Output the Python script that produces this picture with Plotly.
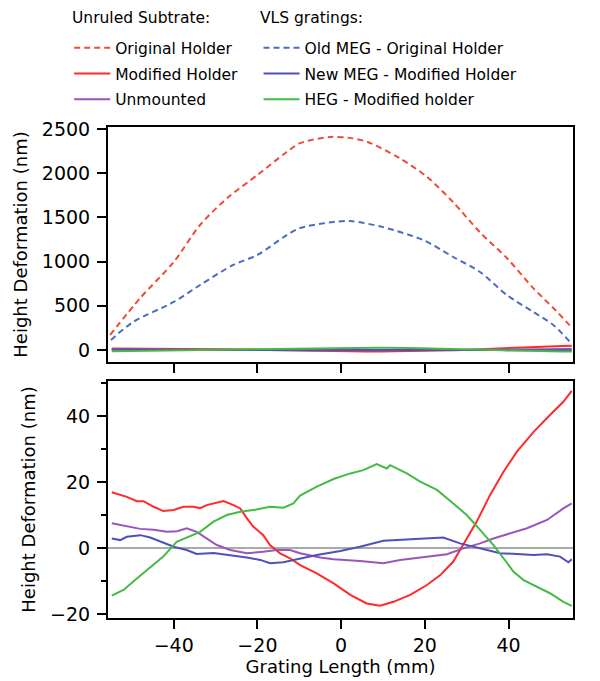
import plotly.graph_objects as go
from plotly.subplots import make_subplots

# ---------------- data ----------------
# Unruled substrate, original holder (dashed red), nm
orig_x = [-55.2, -48, -40, -33.7, -27.2, -20, -13, -9.8, -2.6, 2, 6.2, 14, 20.5, 26.8, 33.2, 39.6, 45.9, 50.7, 55.2]
orig_y = [170, 588, 995, 1414, 1720, 1980, 2240, 2340, 2410, 2400, 2356, 2170, 1960, 1670, 1330, 1040, 700, 475, 250]

# VLS grating, old MEG original holder (dashed blue), nm
oldmeg_x = [-55, -49.7, -40, -33.7, -25.8, -20, -13, -9.8, -1.9, 2.2, 10, 19.6, 26.8, 33.2, 39.6, 45.9, 50.7, 54.7]
oldmeg_y = [113, 317, 543, 735, 962, 1075, 1300, 1380, 1448, 1459, 1390, 1244, 1052, 882, 622, 430, 283, 90]

# Unruled substrate, modified holder (solid red), nm
mod_x = [-54.8, -51.2, -48.8, -47.2, -44.8, -42.5, -40, -37.7, -35.3, -33.7, -32.1, -29.7, -28.1, -25.7, -24.1,
         -22.5, -21, -18.6, -17, -14.6, -12.2, -9.8, -5.8, -1.8, 2.2, 6.1, 9.3, 12.5, 16.5, 20.5, 23.7, 26.8,
         29.2, 32.4, 35.6, 38.8, 42, 46, 49.9, 53.1, 55.1]
mod_y = [16.9, 15.5, 14.2, 14.2, 12.5, 11.2, 11.5, 12.5, 12.5, 12.1, 13.0, 13.7, 14.2, 13.0, 12.0,
         9.0, 6.5, 3.9, 0.9, -1.6, -3.1, -5.2, -7.7, -10.7, -14.2, -16.8, -17.5, -16.3, -14.2, -11.2, -8.2, -4.1,
         0.9, 8.0, 16.1, 23.1, 29.2, 35.2, 40.3, 44.3, 47.6]

# Unruled substrate, unmounted (purple), nm
unm_x = [-54.8, -51.2, -48, -44.8, -41.6, -39.2, -36.9, -34.5, -32.1, -29.7, -26.5, -22.5, -18.6, -15.4, -12.2,
         -9.8, -5, -1.8, 4.5, 10.1, 14.1, 20.5, 25.3, 29.2, 33.2, 36.4, 39.6, 44.4, 49.2, 53.1, 55.1]
unm_y = [7.5, 6.5, 5.8, 5.5, 4.9, 5.1, 6.0, 4.9, 2.9, 0.9, -0.6, -1.6, -1.1, -0.6, -0.6,
         -1.6, -2.9, -3.4, -3.9, -4.6, -3.6, -2.6, -1.9, -0.1, 1.4, 2.9, 4.1, 6.0, 8.5, 12.0, 13.5]

# VLS grating, new MEG modified holder (solid blue), nm
newmeg_x = [-54.8, -52.8, -51.2, -48, -45.6, -43.2, -40, -36.9, -34.5, -30.5, -26.5, -22.5, -19.3, -17, -13.8,
            -9.8, -5.8, -0.2, 4.5, 10.1, 16.5, 20.5, 24.4, 28.4, 33.2, 38, 42, 46, 49.2, 52.3, 54.3, 55.1]
newmeg_y = [2.9, 2.4, 3.4, 3.9, 3.2, 1.9, 0.4, -0.6, -1.8, -1.5, -2.1, -2.9, -3.6, -4.6, -4.3,
            -3.1, -2.1, -0.9, 0.4, 2.2, 2.6, 3.0, 3.2, 1.4, -0.1, -1.6, -1.8, -2.1, -1.9, -2.6, -4.3, -3.4]

# VLS grating, HEG modified holder (green), nm
heg_x = [-54.8, -52, -48.8, -45.6, -42.5, -39.3, -36.9, -33.7, -30.5, -27.3, -24.1, -21, -17, -13.8, -11.4,
         -9.8, -5.8, -1.8, 2.2, 5.3, 8.5, 10.9, 11.7, 15.7, 18.9, 22.9, 26.8, 30, 33.2, 36.4, 38.8, 41.2,
         43.6, 46.8, 49.9, 53.1, 55.1]
heg_y = [-14.4, -12.7, -9.2, -5.7, -2.6, 1.9, 3.2, 4.9, 8.0, 10.0, 11.0, 11.5, 12.5, 12.2, 13.5,
         15.9, 18.6, 20.9, 22.6, 23.6, 25.4, 24.1, 25.1, 22.6, 20.1, 17.6, 13.5, 10.0, 5.5, 0.9, -3.1, -7.2,
         -9.7, -11.7, -13.7, -16.3, -17.5]

x_ticks = [-40, -20, 0, 20, 40]
top_y_ticks = [0, 500, 1000, 1500, 2000, 2500]
bot_y_ticks = [-20, 0, 20, 40]
legend_headers = ["Unruled Subtrate:", "VLS gratings:"]

# ---------------- styles ----------------
RED_D = "#ef4a3a"
BLUE_D = "#4a6cc0"
RED = "#ff2a2a"
PURPLE = "#9a55bb"
BLUE = "#5050bb"
GREEN = "#44bb44"
FONT = "DejaVu Sans"
DASH = "6px,4px"

fig = make_subplots(rows=2, cols=1, shared_xaxes=False, vertical_spacing=0.0387)

series = [
    ("Original Holder", orig_x, orig_y, RED_D, DASH, "legend", False),
    ("Modified Holder", mod_x, mod_y, RED, "solid", "legend", True),
    ("Unmounted", unm_x, unm_y, PURPLE, "solid", "legend", True),
    ("Old MEG - Original Holder", oldmeg_x, oldmeg_y, BLUE_D, DASH, "legend2", False),
    ("New MEG - Modified Holder", newmeg_x, newmeg_y, BLUE, "solid", "legend2", True),
    ("HEG - Modified holder", heg_x, heg_y, GREEN, "solid", "legend2", True),
]

for name, xs, ys, col, dash, leg, bottom in series:
    shape = "linear" if bottom else "spline"
    fig.add_trace(go.Scatter(x=xs, y=ys, mode="lines", name=name,
                             line=dict(color=col, width=2, dash=dash, shape=shape, smoothing=0.8),
                             legend=leg, showlegend=True, legendgroup=name), row=1, col=1)
    if bottom:
        fig.add_trace(go.Scatter(x=xs, y=ys, mode="lines", name=name,
                                 line=dict(color=col, width=2, dash=dash),
                                 showlegend=False, legendgroup=name), row=2, col=1)

axis_common = dict(showline=True, mirror=True, linecolor="black", linewidth=2,
                   ticks="outside", ticklen=9, tickwidth=2, tickcolor="black",
                   showgrid=False, automargin=False,
                   tickfont=dict(family=FONT, size=19, color="black"))
title_font = dict(family=FONT, size=18, color="black")

fig.update_xaxes(range=[-55.7, 55.4], tickvals=x_ticks, showticklabels=False, zeroline=False,
                 row=1, col=1, **axis_common)
fig.update_xaxes(range=[-55.7, 55.4], tickvals=x_ticks, zeroline=False, row=2, col=1,
                 title=dict(text="Grating Length (mm)", font=title_font, standoff=4),
                 **axis_common)
fig.update_yaxes(range=[-136, 2523], tickvals=top_y_ticks, zeroline=False, row=1, col=1,
                 ticklabelstandoff=3,
                 title=dict(text="Height Deformation (nm)", font=title_font, standoff=10),
                 domain=[0.5214, 1.0], **axis_common)
fig.update_yaxes(range=[-21.2, 50.6], tickvals=bot_y_ticks, row=2, col=1,
                 ticklabelstandoff=3,
                 zeroline=True, zerolinecolor="#aaaaaa", zerolinewidth=2,
                 minor=dict(ticks="outside", ticklen=5, tickwidth=2, tickcolor="black", dtick=10, tick0=0),
                 title=dict(text="Height Deformation (nm)", font=title_font, standoff=10),
                 domain=[0.0, 0.4827], **axis_common)

leg_font = dict(family=FONT, size=15.5, color="black")
leg_common = dict(bgcolor="rgba(0,0,0,0)", borderwidth=0, xanchor="left", yanchor="top",
                  font=leg_font, itemwidth=36, traceorder="grouped",
                  tracegroupgap=2.5, itemclick=False, itemdoubleclick=False)

fig.update_layout(
    width=600, height=681,
    margin=dict(l=108, r=27, t=127, b=63, autoexpand=False),
    plot_bgcolor="white", paper_bgcolor="white",
    font=dict(family=FONT, size=16, color="black"),
    legend=dict(x=-0.0835, y=1.195, **leg_common),
    legend2=dict(x=0.3237, y=1.195, **leg_common),
)

fig.add_annotation(text=legend_headers[0], xref="paper", yref="paper", x=-0.0817, y=1.222,
                   xanchor="left", yanchor="middle", showarrow=False, font=leg_font)
fig.add_annotation(text=legend_headers[1], xref="paper", yref="paper", x=0.3226, y=1.222,
                   xanchor="left", yanchor="middle", showarrow=False, font=leg_font)

fig.write_html("out.html", config={"displayModeBar": False},
               post_script="document.body.style.margin='0px';")
